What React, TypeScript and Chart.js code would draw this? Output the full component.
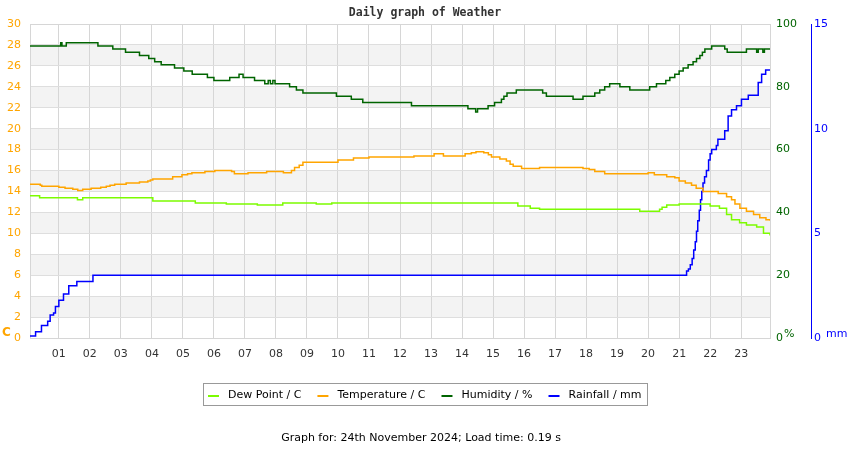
import React, { useEffect, useRef } from 'react';
import { Chart, registerables } from 'chart.js';

Chart.register(...registerables);

const TITLE = 'Daily graph of Weather';
const FOOTER = 'Graph for: 24th November 2024; Load time: 0.19 s';

const X_MIN = 0.07;
const X_MAX = 23.93;
const HOUR_TICKS = [1, 2, 3, 4, 5, 6, 7, 8, 9, 10, 11, 12, 13, 14, 15, 16, 17, 18, 19, 20, 21, 22, 23];
const TEMP_TICKS = [0, 2, 4, 6, 8, 10, 12, 14, 16, 18, 20, 22, 24, 26, 28, 30];
const HUM_TICKS = [0, 20, 40, 60, 80, 100];
const RAIN_TICKS = [0, 5, 10, 15];
const BANDS = [[2, 4], [6, 8], [10, 12], [14, 16], [18, 20], [22, 24], [26, 28]];

const DEW_H = [0.07, 0.38, 1.6, 1.77, 4.03, 5.4, 6.4, 7.4, 8.22, 9.3, 9.8, 15.8, 16.2, 16.5, 19.73, 20.37, 20.45, 20.6, 21.0, 22.0, 22.3, 22.53, 22.69, 22.95, 23.17, 23.5, 23.72, 23.93];
const DEW_V = [13.6, 13.4, 13.2, 13.4, 13.1, 12.9, 12.8, 12.7, 12.9, 12.8, 12.9, 12.6, 12.4, 12.3, 12.1, 12.3, 12.5, 12.7, 12.8, 12.6, 12.4, 11.8, 11.3, 11.0, 10.8, 10.6, 10.0, 9.8];

const TEMP_H = [0.07, 0.4, 0.45, 1.0, 1.2, 1.45, 1.61, 1.77, 2.04, 2.35, 2.53, 2.65, 2.8, 3.17, 3.6, 3.87, 3.95, 4.03, 4.67, 4.97, 5.15, 5.29, 5.71, 6.03, 6.57, 6.66, 7.1, 7.7, 8.24, 8.5, 8.6, 8.75, 8.87, 10.0, 10.5, 11.0, 12.45, 13.1, 13.4, 14.1, 14.3, 14.45, 14.7, 14.85, 14.95, 15.22, 15.43, 15.55, 15.65, 15.92, 16.5, 17.9, 18.1, 18.28, 18.6, 20.0, 20.2, 20.6, 20.86, 21.0, 21.2, 21.4, 21.55, 21.77, 22.26, 22.53, 22.69, 22.8, 22.96, 23.17, 23.4, 23.6, 23.8, 23.93];
const TEMP_V = [14.7, 14.6, 14.5, 14.4, 14.3, 14.2, 14.1, 14.2, 14.3, 14.4, 14.5, 14.6, 14.7, 14.8, 14.9, 15.0, 15.1, 15.2, 15.4, 15.6, 15.7, 15.8, 15.9, 16.0, 15.9, 15.7, 15.8, 15.9, 15.8, 16.0, 16.3, 16.5, 16.8, 17.0, 17.2, 17.3, 17.4, 17.6, 17.4, 17.6, 17.7, 17.8, 17.7, 17.5, 17.3, 17.1, 16.9, 16.6, 16.4, 16.2, 16.3, 16.2, 16.1, 15.9, 15.7, 15.8, 15.6, 15.4, 15.3, 15.0, 14.8, 14.6, 14.3, 14.0, 13.8, 13.5, 13.2, 12.8, 12.4, 12.1, 11.8, 11.5, 11.3, 11.2];

const HUM_H = [0.07, 1.06, 1.1, 1.24, 2.26, 2.74, 3.15, 3.6, 3.9, 4.09, 4.3, 4.73, 5.03, 5.3, 5.79, 6.0, 6.51, 6.81, 6.94, 7.31, 7.64, 7.75, 7.82, 7.9, 7.97, 8.05, 8.44, 8.66, 8.87, 9.95, 10.43, 10.8, 12.37, 14.19, 14.44, 14.5, 14.84, 15.05, 15.27, 15.35, 15.45, 15.75, 16.6, 16.72, 17.58, 17.9, 18.28, 18.44, 18.6, 18.76, 19.09, 19.41, 20.05, 20.27, 20.57, 20.7, 20.86, 21.0, 21.13, 21.29, 21.45, 21.56, 21.67, 21.75, 21.83, 22.05, 22.47, 22.55, 23.17, 23.5, 23.55, 23.7, 23.75, 23.93];
const HUM_V = [93, 94, 93, 94, 93, 92, 91, 90, 89, 88, 87, 86, 85, 84, 83, 82, 83, 84, 83, 82, 81, 82, 81, 82, 81, 81, 80, 79, 78, 77, 76, 75, 74, 73, 72, 73, 74, 75, 76, 77, 78, 79, 78, 77, 76, 77, 78, 79, 80, 81, 80, 79, 80, 81, 82, 83, 84, 85, 86, 87, 88, 89, 90, 91, 92, 93, 92, 91, 92, 91, 92, 91, 92, 92];

const RAIN_H = [0.07, 0.25, 0.44, 0.64, 0.72, 0.83, 0.89, 1.0, 1.15, 1.32, 1.58, 2.1, 21.24, 21.3, 21.36, 21.42, 21.47, 21.52, 21.56, 21.6, 21.65, 21.69, 21.73, 21.77, 21.82, 21.88, 21.95, 22.0, 22.05, 22.2, 22.25, 22.47, 22.58, 22.69, 22.85, 23.01, 23.23, 23.55, 23.66, 23.79, 23.93];
const RAIN_V = [0.1, 0.3, 0.6, 0.8, 1.1, 1.2, 1.5, 1.8, 2.1, 2.5, 2.7, 3.0, 3.2, 3.3, 3.5, 3.8, 4.2, 4.6, 5.1, 5.6, 6.1, 6.6, 7.0, 7.4, 7.7, 8.0, 8.5, 8.8, 9.0, 9.2, 9.5, 9.9, 10.6, 10.9, 11.1, 11.4, 11.6, 12.2, 12.6, 12.8, 12.8];

const SERIES_LABELS = ['Dew Point / C', 'Temperature / C', 'Humidity / %', 'Rainfall / mm'];
const SERIES_COLORS = ['#7cfc00', '#ffa500', '#006400', '#0000ff'];

const FONT = '"DejaVu Sans", sans-serif';

const pts = (h: number[], v: number[]) => h.map((x, i) => ({ x, y: v[i] }));

const decor = {
  id: 'decor',
  beforeDraw(chart: any) {
    const { ctx, chartArea: a, scales } = chart;
    const y = scales.y;
    ctx.save();
    ctx.fillStyle = '#f3f3f3';
    for (const [lo, hi] of BANDS) {
      const t = y.getPixelForValue(hi);
      const b = y.getPixelForValue(lo);
      ctx.fillRect(a.left, t, a.right - a.left, b - t);
    }
    ctx.restore();
  },
  beforeDatasetsDraw(chart: any) {
    const { ctx, chartArea: a } = chart;
    ctx.save();
    ctx.strokeStyle = '#d6d6d6';
    ctx.lineWidth = 1;
    ctx.strokeRect(Math.round(a.left) + 0.5, Math.round(a.top) + 0.5, Math.round(a.right - a.left), Math.round(a.bottom - a.top));
    ctx.restore();
  },
  afterDraw(chart: any) {
    const { ctx } = chart;
    ctx.save();
    // title
    ctx.fillStyle = '#333';
    ctx.font = 'bold 11.5px "DejaVu Sans Mono", monospace';
    ctx.textAlign = 'center';
    ctx.textBaseline = 'middle';
    ctx.fillText(TITLE, 425, 13);
    // units
    ctx.textAlign = 'left';
    ctx.font = 'bold 12px ' + FONT;
    ctx.fillStyle = '#ffa500';
    ctx.fillText('C', 2, 333);
    ctx.font = '11px ' + FONT;
    ctx.fillStyle = '#006400';
    ctx.fillText('%', 784, 334);
    ctx.fillStyle = '#0000ff';
    ctx.fillText('mm', 826, 334);
    // legend
    ctx.font = '11px ' + FONT;
    const lineW = 11, gapL = 9, gapItem = 16, pad = 5;
    const widths = SERIES_LABELS.map((s) => ctx.measureText(s).width);
    const total = widths.reduce((s, w) => s + w + lineW + gapL, 0) + gapItem * (SERIES_LABELS.length - 1) + pad * 2;
    const bx = Math.round(425 - total / 2);
    const by = 383;
    const bh = 22;
    ctx.strokeStyle = '#999';
    ctx.lineWidth = 1;
    ctx.strokeRect(bx + 0.5, by + 0.5, Math.round(total), bh);
    let x = bx + pad;
    const cy = by + bh / 2 + 1;
    SERIES_LABELS.forEach((lab, i) => {
      ctx.strokeStyle = SERIES_COLORS[i];
      ctx.lineWidth = 2;
      ctx.beginPath();
      ctx.moveTo(x, cy + 1);
      ctx.lineTo(x + lineW, cy + 1);
      ctx.stroke();
      x += lineW + gapL;
      ctx.fillStyle = '#000';
      ctx.fillText(lab, x, cy);
      x += widths[i] + gapItem;
    });
    // footer
    ctx.textAlign = 'center';
    ctx.fillStyle = '#000';
    ctx.fillText(FOOTER, 421, 438);
    ctx.restore();
  },
};

export default function App() {
  const ref = useRef<HTMLCanvasElement>(null);
  useEffect(() => {
    if (!ref.current) return;
    const ds = (i: number, h: number[], v: number[], axis: string) => ({
      label: SERIES_LABELS[i],
      data: pts(h, v),
      borderColor: SERIES_COLORS[i],
      backgroundColor: SERIES_COLORS[i],
      borderWidth: 1.5,
      pointRadius: 0,
      stepped: true,
      fill: false,
      yAxisID: axis,
    });
    const chart = new Chart(ref.current, {
      type: 'line',
      data: {
        datasets: [
          ds(0, DEW_H, DEW_V, 'y'),
          ds(1, TEMP_H, TEMP_V, 'y'),
          ds(2, HUM_H, HUM_V, 'yHum'),
          ds(3, RAIN_H, RAIN_V, 'yRain'),
        ] as any,
      },
      options: {
        animation: false,
        responsive: false,
        devicePixelRatio: 1,
        layout: { padding: { top: 24, bottom: 90, left: 0, right: 0 } },
        plugins: { legend: { display: false }, title: { display: false }, tooltip: { enabled: false } },
        scales: {
          x: {
            type: 'linear',
            min: X_MIN,
            max: X_MAX,
            afterBuildTicks: (s: any) => { s.ticks = HOUR_TICKS.map((v) => ({ value: v })); },
            afterFit: (s: any) => { s.height = 22; },
            grid: { color: '#d6d6d6', drawTicks: false },
            border: { color: '#d6d6d6' },
            ticks: {
              padding: 10,
              color: '#333',
              font: { family: FONT, size: 11 },
              maxRotation: 0,
              autoSkip: false,
              callback: (v: any) => String(v).padStart(2, '0'),
            },
          },
          y: {
            position: 'left',
            min: 0,
            max: 30,
            afterBuildTicks: (s: any) => { s.ticks = TEMP_TICKS.map((v) => ({ value: v })); },
            afterFit: (s: any) => { s.width = 30; },
            grid: { color: '#dedede', drawTicks: false },
            border: { color: '#d6d6d6' },
            ticks: { padding: 9, color: '#ffa500', font: { family: FONT, size: 11 } },
          },
          yHum: {
            position: 'right',
            min: 0,
            max: 100,
            afterBuildTicks: (s: any) => { s.ticks = HUM_TICKS.map((v) => ({ value: v })); },
            afterFit: (s: any) => { s.width = 41; },
            grid: { display: false, drawTicks: false },
            border: { display: false },
            ticks: { padding: 6, color: '#006400', font: { family: FONT, size: 11 } },
          },
          yRain: {
            position: 'right',
            min: 0,
            max: 15,
            afterBuildTicks: (s: any) => { s.ticks = RAIN_TICKS.map((v) => ({ value: v })); },
            afterFit: (s: any) => { s.width = 39; },
            grid: { display: false, drawTicks: false },
            border: { display: true, color: '#0000ff', width: 1 },
            ticks: { padding: 3, color: '#0000ff', font: { family: FONT, size: 11 } },
          },
        },
      } as any,
      plugins: [decor],
    });
    return () => chart.destroy();
  }, []);
  return (
    <div style={{ position: 'absolute', left: 0, top: 0, width: 850, height: 450, background: '#fff' }}>
      <canvas ref={ref} width={850} height={450} />
    </div>
  );
}
